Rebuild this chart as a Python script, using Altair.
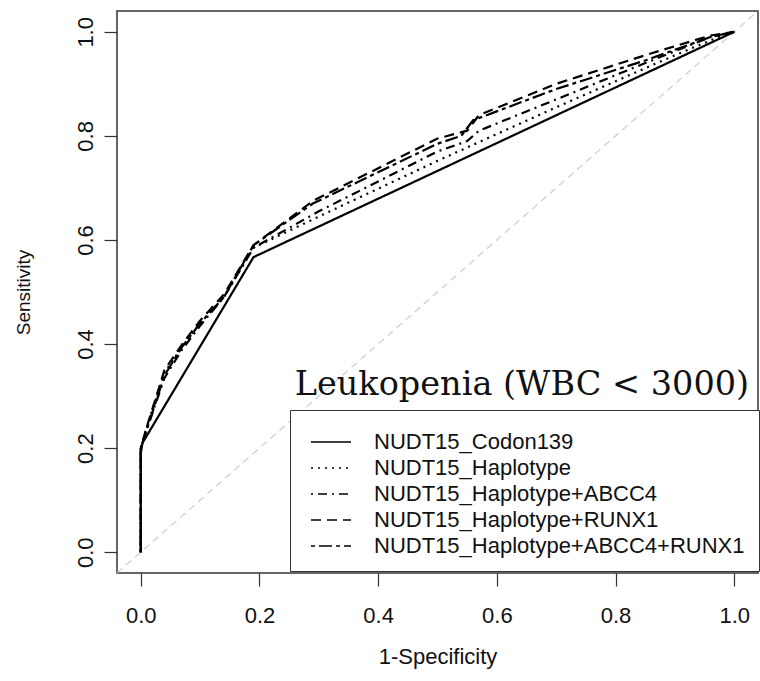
import altair as alt
import pandas as pd

series_names = [
    "NUDT15_Codon139",
    "NUDT15_Haplotype",
    "NUDT15_Haplotype+ABCC4",
    "NUDT15_Haplotype+RUNX1",
    "NUDT15_Haplotype+ABCC4+RUNX1",
]

codon_fpr = [0.0, 0.0, 0.003, 0.19, 1.0]
codon_tpr = [0.0, 0.19, 0.21, 0.567, 1.0]

hap_fpr = [0.0, 0.0, 0.01, 0.04, 0.07, 0.10, 0.14, 0.19, 0.30, 0.50, 0.70, 0.90, 0.98, 1.0]
hap_tpr = [0.0, 0.20, 0.24, 0.345, 0.395, 0.44, 0.49, 0.585, 0.645, 0.752, 0.855, 0.955, 0.993, 1.0]

abcc4_fpr = [0.0, 0.0, 0.01, 0.04, 0.07, 0.10, 0.14, 0.19, 0.30, 0.50, 0.55, 0.57, 0.70, 0.85, 0.96, 1.0]
abcc4_tpr = [0.0, 0.20, 0.235, 0.335, 0.39, 0.435, 0.49, 0.585, 0.655, 0.77, 0.79, 0.81, 0.87, 0.94, 0.99, 1.0]

runx1_fpr = [0.0, 0.0, 0.01, 0.04, 0.07, 0.10, 0.14, 0.19, 0.29, 0.50, 0.55, 0.57, 0.70, 0.85, 0.96, 1.0]
runx1_tpr = [0.0, 0.20, 0.24, 0.35, 0.40, 0.445, 0.495, 0.59, 0.675, 0.795, 0.81, 0.84, 0.90, 0.955, 0.993, 1.0]

both_fpr = [0.0, 0.0, 0.01, 0.04, 0.07, 0.10, 0.14, 0.19, 0.29, 0.50, 0.54, 0.56, 0.70, 0.85, 0.96, 1.0]
both_tpr = [0.0, 0.20, 0.235, 0.34, 0.395, 0.44, 0.49, 0.59, 0.67, 0.785, 0.80, 0.83, 0.89, 0.945, 0.99, 1.0]

diag_vals = [-0.04, 1.04]
tick_vals = [0.0, 0.2, 0.4, 0.6, 0.8, 1.0]

title_text = ["Leukopenia (WBC < 3000)"]
title_x = [1.025]
title_y = [0.302]

dashes = [[1, 0], [2, 5], [2, 5, 9, 5], [10, 6], [4, 4, 13, 4]]

rows = []
for name, fx, ty in zip(
    series_names,
    [codon_fpr, hap_fpr, abcc4_fpr, runx1_fpr, both_fpr],
    [codon_tpr, hap_tpr, abcc4_tpr, runx1_tpr, both_tpr],
):
    for i, (a, b) in enumerate(zip(fx, ty)):
        rows.append({"series": name, "fpr": a, "tpr": b, "idx": i})
df = pd.DataFrame(rows)

diag_df = pd.DataFrame({"fpr": diag_vals, "tpr": diag_vals})
title_df = pd.DataFrame({"label": title_text, "fpr": title_x, "tpr": title_y})

xscale = alt.Scale(domain=[-0.04, 1.04], nice=False, zero=False)
yscale = alt.Scale(domain=[-0.04, 1.04], nice=False, zero=False)

font = "Liberation Sans"

xaxis = alt.Axis(
    values=tick_vals, format=".1f", grid=False, domain=False,
    tickSize=13, tickColor="#333", tickWidth=1.2,
    labelFont=font, labelFontSize=22, labelColor="#111", labelPadding=19,
    title="1-Specificity", titleFont=font, titleFontSize=22, titleFontWeight="normal",
    titleColor="#111", titlePadding=20,
)
yaxis = alt.Axis(
    values=tick_vals, format=".1f", grid=False, domain=False,
    tickSize=13, tickColor="#333", tickWidth=1.2,
    labelFont=font, labelFontSize=22, labelColor="#111", labelPadding=7,
    labelAngle=270, labelAlign="center", labelBaseline="bottom",
    title="Sensitivity", titleFont=font, titleFontSize=19, titleFontWeight="normal",
    titleColor="#111", titlePadding=41,
)

diag = alt.Chart(diag_df).mark_line(
    color="#cccccc", strokeWidth=1.2, strokeDash=[7, 5], clip=True
).encode(
    x=alt.X("fpr:Q", scale=xscale, axis=xaxis),
    y=alt.Y("tpr:Q", scale=yscale, axis=yaxis),
)

lines = alt.Chart(df).mark_line(color="black", strokeWidth=2.2, clip=True).encode(
    x=alt.X("fpr:Q", scale=xscale, axis=xaxis),
    y=alt.Y("tpr:Q", scale=yscale, axis=yaxis),
    order=alt.Order("idx:Q"),
    strokeDash=alt.StrokeDash(
        "series:N",
        scale=alt.Scale(domain=series_names, range=dashes),
        sort=series_names,
        legend=alt.Legend(
            title=" ", titleFontSize=1, titlePadding=6,
            orient="none", legendX=173, legendY=399,
            direction="vertical",
            strokeColor="#333", fillColor="white", padding=14,
            symbolType="M-0.4,0H3.6", symbolSize=400, symbolStrokeWidth=1.3,
            symbolStrokeColor="black", symbolFillColor="transparent",
            labelFont=font, labelFontSize=22, labelColor="#111",
            labelOffset=48, rowPadding=4, labelLimit=600,
        ),
    ),
)

title_mark = alt.Chart(title_df).mark_text(
    font="DejaVu Serif", fontSize=33.5, align="right", baseline="alphabetic", color="#111"
).encode(
    x=alt.X("fpr:Q", scale=xscale, axis=xaxis),
    y=alt.Y("tpr:Q", scale=yscale, axis=yaxis),
    text="label:N",
)

chart = alt.layer(diag, lines, title_mark).properties(
    width=641, height=562,
    padding={"left": 117, "top": 11, "right": 2, "bottom": 108},
    autosize=alt.AutoSizeParams(type="none"),
    background="white",
).configure_view(stroke="#333", strokeWidth=1.5)

chart.save("out.html", embed_options={"renderer": "svg", "actions": False})
